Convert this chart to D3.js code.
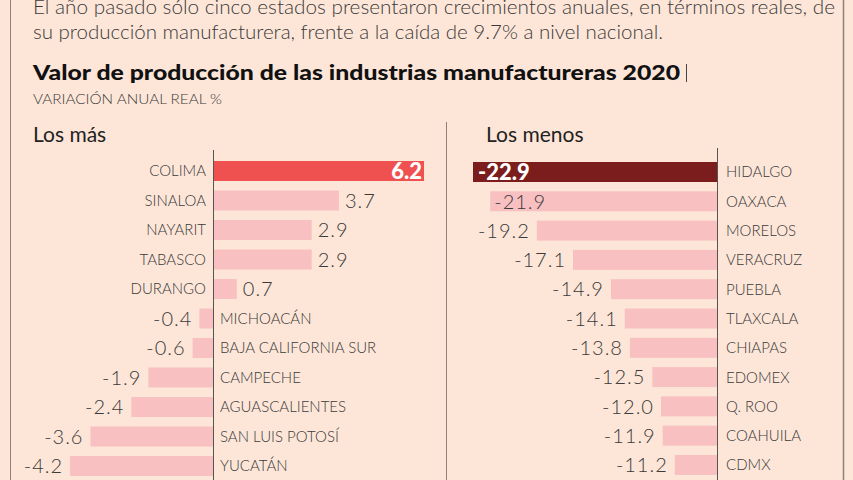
<!DOCTYPE html>
<html><head><meta charset="utf-8">
<script src="https://cdn.jsdelivr.net/npm/d3@7"></script>
<style>
html,body{margin:0;padding:0;background:#fde6d8;}
svg{display:block;}
text{font-family:Lato,"Open Sans",sans-serif;}
</style></head>
<body>
<svg id="c" width="853" height="480"></svg>
<script>
const introLines = [
  "El año pasado sólo cinco estados presentaron crecimientos anuales, en términos reales, de",
  "su producción manufacturera, frente a la caída de 9.7% a nivel nacional."
];
const title = "Valor de producción de las industrias manufactureras 2020";
const subtitle = "VARIACIÓN ANUAL REAL %";
const leftTitle = "Los más";
const rightTitle = "Los menos";

const topStates = ["COLIMA","SINALOA","NAYARIT","TABASCO","DURANGO","MICHOACÁN","BAJA CALIFORNIA SUR","CAMPECHE","AGUASCALIENTES","SAN LUIS POTOSÍ","YUCATÁN"];
const topValues = [6.2,3.7,2.9,2.9,0.7,-0.4,-0.6,-1.9,-2.4,-3.6,-4.2];

const bottomStates = ["HIDALGO","OAXACA","MORELOS","VERACRUZ","PUEBLA","TLAXCALA","CHIAPAS","EDOMEX","Q. ROO","COAHUILA","CDMX"];
const bottomValues = [-22.9,-21.9,-19.2,-17.1,-14.9,-14.1,-13.8,-12.5,-12.0,-11.9,-11.2];

const C = {
  bg:"#fde6d8", bar:"#f9c0c1", top:"#ef5150", bottom:"#7a1d1c",
  text:"#3a3a3a", line:"#8f8078"
};
const fmt = v => d3.format(".1f")(v).replace("\u2212","-");
const svg = d3.select("#c");
svg.append("rect").attr("width",853).attr("height",480).attr("fill",C.bg);

// frame lines
svg.append("line").attr("x1",10.5).attr("x2",10.5).attr("y1",0).attr("y2",480).attr("stroke",C.line).attr("stroke-width",1);
svg.append("line").attr("x1",843.5).attr("x2",843.5).attr("y1",0).attr("y2",480).attr("stroke",C.line).attr("stroke-width",1.5);
svg.append("line").attr("x1",446.5).attr("x2",446.5).attr("y1",122).attr("y2",480).attr("stroke",C.line).attr("stroke-width",1);

// intro text
const introY = [14, 39];
const introW = [802, 630];
introLines.forEach((t,i)=>{
  svg.append("text").attr("x",33).attr("y",introY[i]).attr("font-size",20).attr("font-weight",300)
    .attr("fill",C.text).attr("textLength",introW[i]).attr("lengthAdjust","spacingAndGlyphs").text(t);
});
svg.append("text").attr("x",33).attr("y",80).attr("font-size",20).attr("font-weight",900)
  .attr("fill","#111").attr("textLength",647).attr("lengthAdjust","spacingAndGlyphs").text(title);
svg.append("line").attr("x1",686.5).attr("x2",686.5).attr("y1",64).attr("y2",82).attr("stroke","#444").attr("stroke-width",1);
svg.append("text").attr("x",33).attr("y",104).attr("font-size",13).attr("font-weight",300)
  .attr("fill",C.text).attr("textLength",189).attr("lengthAdjust","spacingAndGlyphs").text(subtitle);

svg.append("text").attr("x",33).attr("y",142).attr("font-size",21).attr("font-weight",400).attr("fill","#222").text(leftTitle);
svg.append("text").attr("x",486).attr("y",142).attr("font-size",21).attr("font-weight",400).attr("fill","#222").text(rightTitle);

const barH = 20;
// LEFT PANEL
const yL = d3.scalePoint().domain(topStates).range([171,466]);
const xL = d3.scaleLinear().domain([0,6.2]).range([213,424]);
const gL = svg.append("g");
topStates.forEach((s,i)=>{
  const v = topValues[i], y = yL(s);
  const x0 = Math.min(xL(0),xL(v)), w = Math.abs(xL(v)-xL(0));
  gL.append("rect").attr("x",x0).attr("y",y-barH/2).attr("width",w).attr("height",barH)
    .attr("fill", i===0 ? C.top : C.bar);
  gL.append("text").attr("x", v>=0 ? xL(0)-7 : xL(0)+7).attr("y",y).attr("dy","0.36em")
    .attr("text-anchor", v>=0 ? "end":"start").attr("font-size",15).attr("font-weight",300)
    .attr("fill",C.text).text(s);
  const lbl = fmt(v);
  if(i===0){
    gL.append("text").attr("x",xL(v)-2).attr("y",y).attr("dy","0.36em").attr("text-anchor","end")
      .attr("font-size",22).attr("font-weight",900).attr("fill","#fff").text(lbl);
  } else {
    gL.append("text").attr("x", v>=0 ? xL(v)+6 : xL(v)-7).attr("y",y).attr("dy","0.36em")
      .attr("text-anchor", v>=0 ? "start":"end").attr("font-size",20).attr("font-weight",300)
      .attr("letter-spacing",1).attr("fill",C.text).text(lbl);
  }
});
svg.append("line").attr("x1",213.5).attr("x2",213.5).attr("y1",150).attr("y2",480).attr("stroke","#555").attr("stroke-width",1);

// RIGHT PANEL
const yR = d3.scalePoint().domain(bottomStates).range([172,465]);
const xR = d3.scaleLinear().domain([-8.75,-22.9]).range([717,473]);
const gR = svg.append("g");
bottomStates.forEach((s,i)=>{
  const v = bottomValues[i], y = yR(s);
  const xs = xR(v);
  gR.append("rect").attr("x",xs).attr("y",y-barH/2).attr("width",xR(-8.75)-xs).attr("height",barH)
    .attr("fill", i===0 ? C.bottom : C.bar);
  gR.append("text").attr("x",xR(-8.75)+9).attr("y",y).attr("dy","0.36em").attr("font-size",15)
    .attr("font-weight",300).attr("fill",C.text).text(s);
  const lbl = fmt(v);
  if(i===0){
    gR.append("text").attr("x",xs+5).attr("y",y).attr("dy","0.36em").attr("font-size",22)
      .attr("font-weight",900).attr("fill","#fff").text(lbl);
  } else {
    const t = gR.append("text").attr("y",y).attr("dy","0.36em").attr("font-size",20).attr("font-weight",300)
      .attr("letter-spacing",1).attr("fill",C.text).text(lbl);
    const tw = t.node().getComputedTextLength();
    if (xs - 7 - tw < 452) t.attr("x", xs+4).attr("text-anchor","start");
    else t.attr("x", xs-7).attr("text-anchor","end");
  }
});
svg.append("line").attr("x1",717.5).attr("x2",717.5).attr("y1",148).attr("y2",480).attr("stroke","#555").attr("stroke-width",1);
</script>
</body></html>
